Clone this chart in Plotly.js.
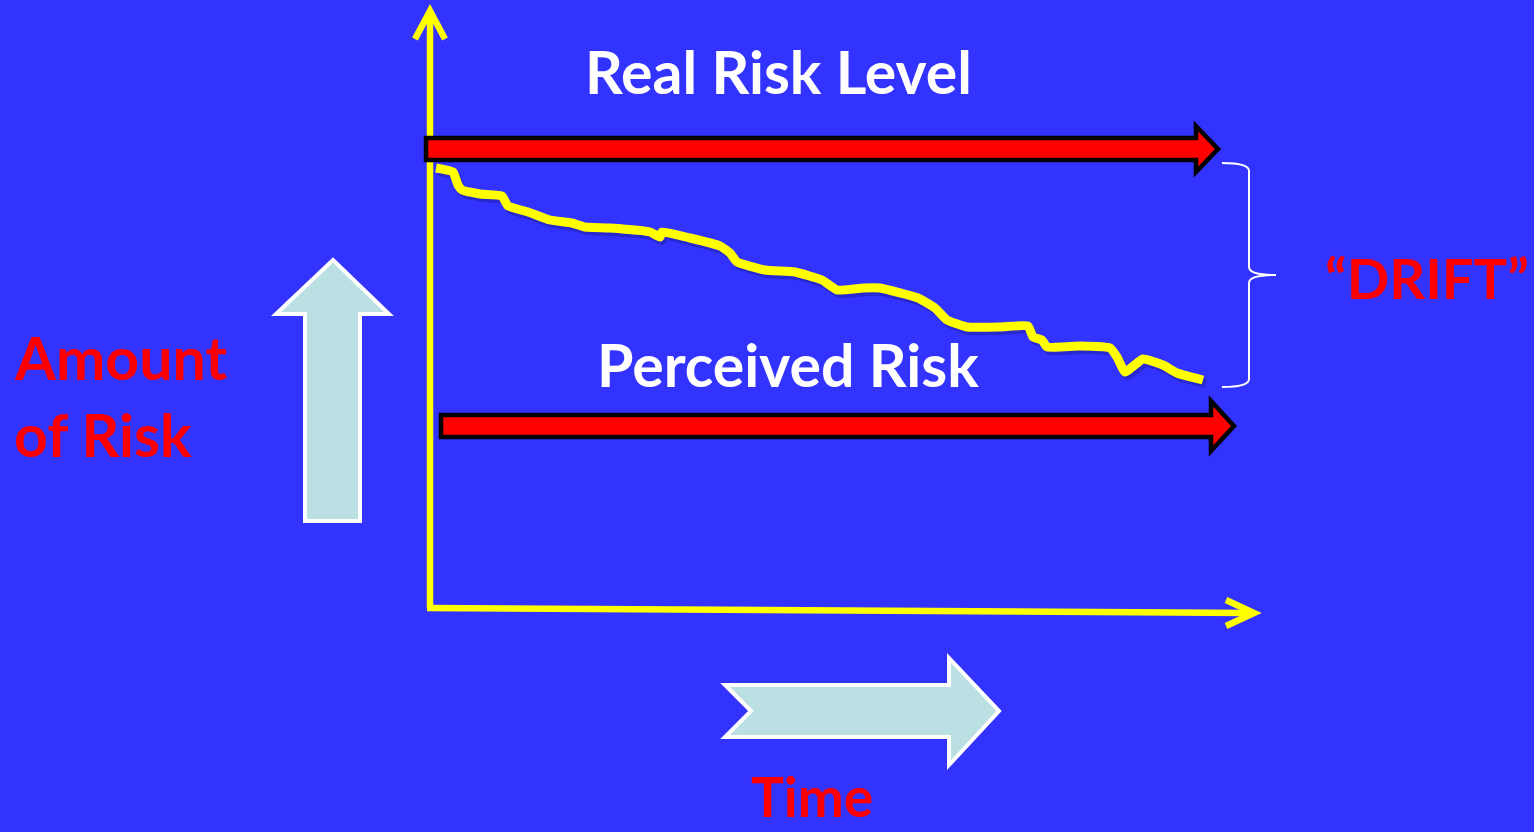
<!DOCTYPE html>
<html>
<head>
<meta charset="utf-8">
<script src="https://cdn.plot.ly/plotly-3.0.1.min.js"></script>
<style>
html,body{margin:0;padding:0;background:#3333FF;overflow:hidden;}
#chart{width:1534px;height:832px;}
</style>
</head>
<body>
<div id="chart"></div>
<script>
// ---- Data (time units, risk units) ----
const perceivedTime = [0.6, 2.3, 2.8, 3.2, 5.0, 7.2, 7.8, 9.8, 12.0, 14.2, 15.5, 18.0, 22.0, 23.0, 23.2, 26.0, 29.0, 30.0, 30.7, 33.5, 36.5, 39.2, 40.7, 43.3, 45.0, 48.8, 50.5, 51.7, 53.7, 57.0, 59.8, 60.3, 61.2, 61.7, 65.0, 68.0, 68.7, 69.5, 71.3, 73.3, 74.7, 77.3];
const perceivedRisk = [44.2, 43.8, 42.5, 42.0, 41.6, 41.4, 40.4, 39.8, 39.0, 38.7, 38.3, 38.2, 37.8, 37.3, 37.8, 37.2, 36.4, 35.7, 34.8, 34.0, 33.8, 33.0, 32.0, 32.2, 32.2, 31.2, 30.2, 29.0, 28.3, 28.3, 28.4, 27.3, 27.0, 26.3, 26.4, 26.2, 25.3, 23.8, 25.1, 24.5, 23.7, 23.0];
const realRiskLevel = 46.1;
const perceivedRiskLevel = 18.4;
const labels = {
  real: "Real Risk Level",
  perceived: "Perceived Risk",
  amount1: "Amount",
  amount2: "of Risk",
  drift: "\u201CDRIFT\u201D",
  time: "Time"
};

// ---- Styling ----
const BG = '#3333FF';
const YEL = '#FFFF00';
const RED = '#FF0000';
const PALE = '#BBE0E3';
const FONT = 'Lato, "Open Sans", sans-serif';

function redArrow(x0, x1, tip, lvl, half, headHalf) {
  return {
    type: 'path', xref: 'x', yref: 'y',
    path: `M ${x0},${lvl + half} L ${x1},${lvl + half} L ${x1},${lvl + headHalf} L ${tip},${lvl} L ${x1},${lvl - headHalf} L ${x1},${lvl - half} L ${x0},${lvl - half} Z`,
    fillcolor: RED, line: {color: '#000000', width: 4.5}
  };
}

const shapes = [
  // light blue up arrow
  {type: 'path', xref: 'x', yref: 'y',
   path: 'M -12.5,8.9 L -7.0,8.9 L -7.0,29.6 L -4.1,29.6 L -9.7,35.0 L -15.4,29.6 L -12.5,29.6 Z',
   fillcolor: PALE, line: {color: '#FFFFFF', width: 4}},
  // light blue time arrow
  {type: 'path', xref: 'x', yref: 'y',
   path: 'M 29.5,-7.5 L 51.9,-7.5 L 51.9,-4.8 L 56.9,-10.1 L 51.9,-15.5 L 51.9,-12.7 L 29.5,-12.7 L 32.1,-10.1 Z',
   fillcolor: PALE, line: {color: '#FFFFFF', width: 4}},
  // y axis
  {type: 'line', xref: 'x', yref: 'y', x0: 0, y0: 0.2, x1: 0, y1: 59.6, line: {color: YEL, width: 6.5}},
  {type: 'path', xref: 'x', yref: 'y', path: 'M -1.5,57.1 L 0,59.9 L 1.5,57.1', line: {color: YEL, width: 6.5}},
  // x axis
  {type: 'line', xref: 'x', yref: 'y', x0: -0.3, y0: 0.2, x1: 82.2, y1: -0.3, line: {color: YEL, width: 6.5}},
  {type: 'path', xref: 'x', yref: 'y', path: 'M 79.6,1.0 L 82.4,-0.3 L 79.6,-1.6', line: {color: YEL, width: 6.5}},
  // real risk arrow
  redArrow(-0.4, 76.6, 78.8, realRiskLevel, 1.1, 2.3),
  // perceived risk arrow
  redArrow(1.1, 78.1, 80.4, perceivedRiskLevel, 1.1, 2.5),
  // brace
  {type: 'path', xref: 'x', yref: 'y',
   path: 'M 79.2,44.7 Q 81.9,44.7 81.9,43.9 L 81.9,34.3 Q 81.9,33.5 84.6,33.5 Q 81.9,33.5 81.9,32.7 L 81.9,23.1 Q 81.9,22.3 79.2,22.3',
   line: {color: '#FFFFFF', width: 2}}
];

const traces = [
  { // shadow
    x: perceivedTime.map(v => v + 0.25), y: perceivedRisk.map(v => v - 0.35),
    mode: 'lines', line: {color: 'rgba(20,20,120,0.35)', width: 9, shape: 'spline', smoothing: 0.4},
    hoverinfo: 'skip', showlegend: false
  },
  {
    x: perceivedTime, y: perceivedRisk, mode: 'lines', name: 'Perceived risk',
    line: {color: YEL, width: 9, shape: 'spline', smoothing: 0.4},
    showlegend: false
  }
];

const ann = (text, x, y, color, size, xanchor) => ({
  text, x, y, xref: 'x', yref: 'y', showarrow: false,
  xanchor: xanchor || 'center', yanchor: 'middle',
  font: {family: FONT, size, color, weight: 'bold'}
});

const annotations = [
  ann(labels.real, 34.8, 53.85, '#FFFFFF', 59),
  ann(labels.perceived, 35.8, 24.55, '#FFFFFF', 59),
  ann(labels.amount1, -41.8, 25.3, RED, 59, 'left'),
  ann(labels.amount2, -41.8, 17.55, RED, 59, 'left'),
  ann(labels.drift, 89.3, 33.25, RED, 56, 'left'),
  ann(labels.time, 38.2, -18.6, RED, 55)
];

const layout = {
  width: 1534, height: 832,
  margin: {l: 0, r: 0, t: 0, b: 0, pad: 0},
  paper_bgcolor: BG, plot_bgcolor: BG,
  xaxis: {range: [-43, 110.4], visible: false, fixedrange: true},
  yaxis: {range: [-22.2, 61.0], visible: false, fixedrange: true},
  shapes, annotations, showlegend: false
};

Plotly.newPlot('chart', traces, layout, {displayModeBar: false, staticPlot: true});
</script>
</body>
</html>
